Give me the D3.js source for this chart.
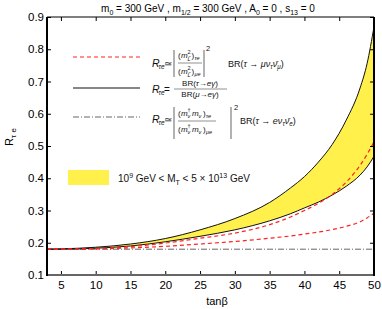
<!DOCTYPE html>
<html><head><meta charset="utf-8">
<script src="https://cdn.jsdelivr.net/npm/d3@7"></script>
<style>body{margin:0;background:#fff}svg{display:block}text{font-family:"Liberation Sans",Arial,sans-serif}</style>
</head><body><svg id="c" width="382" height="309"></svg>
<script>
const tanb = [3, 5, 10, 15, 20, 25, 30, 35, 38, 40, 42, 44, 46, 48, 49, 50];
const upperBlack = [0.180, 0.181, 0.186, 0.196, 0.213, 0.240, 0.275, 0.325, 0.370, 0.405, 0.450, 0.505, 0.580, 0.680, 0.755, 0.870];
const lowerBlack = [0.180, 0.180, 0.183, 0.190, 0.203, 0.220, 0.240, 0.268, 0.290, 0.308, 0.326, 0.348, 0.375, 0.410, 0.435, 0.468];
const upperRed = [0.180, 0.180, 0.182, 0.188, 0.199, 0.214, 0.230, 0.256, 0.280, 0.300, 0.322, 0.350, 0.388, 0.440, 0.474, 0.513];
const lowerRed = [0.180, 0.180, 0.181, 0.184, 0.189, 0.196, 0.204, 0.214, 0.221, 0.227, 0.233, 0.241, 0.251, 0.265, 0.277, 0.292];
const dashDot = [0.180, 0.180, 0.180, 0.180, 0.180, 0.180, 0.180, 0.180, 0.180, 0.180, 0.180, 0.180, 0.180, 0.180, 0.180, 0.180];
const xTicks = [5, 10, 15, 20, 25, 30, 35, 40, 45, 50];
const yTicks = [0.1, 0.2, 0.3, 0.4, 0.5, 0.6, 0.7, 0.8, 0.9];

const svg = d3.select("#c");
const L = 47, R = 374, T = 17, B = 275;
const x = d3.scaleLinear().domain([3, 50]).range([L, R]);
const y = d3.scaleLinear().domain([0.1, 0.9]).range([B, T]);

svg.append("clipPath").attr("id","cp").append("rect").attr("x",L).attr("y",T).attr("width",R-L).attr("height",B-T);
const g = svg.append("g").attr("clip-path","url(#cp)");

const idx = d3.range(tanb.length);
g.append("path").datum(idx)
  .attr("d", d3.area().x(i=>x(tanb[i])).y0(i=>y(lowerBlack[i])).y1(i=>y(upperBlack[i])).curve(d3.curveMonotoneX))
  .attr("fill","#fff04c");
const line = arr => d3.line().x(i=>x(tanb[i])).y(i=>y(arr[i])).curve(d3.curveMonotoneX);
g.append("path").datum(idx).attr("d", line(dashDot)).attr("fill","none").attr("stroke","#555").attr("stroke-width",0.9).attr("stroke-dasharray","6,2,1,2");
g.append("path").datum(idx).attr("d", line(upperBlack)).attr("fill","none").attr("stroke","#111").attr("stroke-width",1);
g.append("path").datum(idx).attr("d", line(lowerBlack)).attr("fill","none").attr("stroke","#111").attr("stroke-width",1);
g.append("path").datum(idx).attr("d", line(lowerRed)).attr("fill","none").attr("stroke","#f22").attr("stroke-width",1.2).attr("stroke-dasharray","4,3");
g.append("path").datum(idx).attr("d", line(upperRed)).attr("fill","none").attr("stroke","#f22").attr("stroke-width",1.2).attr("stroke-dasharray","4,3");

// axes
const fs = "11.5px";
const xb = svg.append("g").attr("transform",`translate(0,${B})`).call(d3.axisBottom(x).tickValues(xTicks).tickSize(-4).tickPadding(6));
const xt = svg.append("g").attr("transform",`translate(0,${T})`).call(d3.axisTop(x).tickValues(xTicks).tickSize(-4).tickFormat(""));
const yl = svg.append("g").attr("transform",`translate(${L},0)`).call(d3.axisLeft(y).tickValues(yTicks).tickSize(-4).tickPadding(3).tickFormat(d3.format(".1f")));
const yr = svg.append("g").attr("transform",`translate(${R},0)`).call(d3.axisRight(y).tickValues(yTicks).tickSize(-4).tickFormat(""));
[xb,xt,yl,yr].forEach(a=>{a.select(".domain").remove();a.selectAll("line").attr("stroke","#000").attr("stroke-width",1);a.selectAll("text").attr("font-size",fs).attr("font-family","Liberation Sans, Arial, sans-serif").attr("fill","#000");});
svg.append("line").attr("x1",L).attr("x2",R).attr("y1",B).attr("y2",B).attr("stroke","#666").attr("stroke-width",2);
svg.append("line").attr("x1",L).attr("x2",L).attr("y1",T).attr("y2",B+1).attr("stroke","#000").attr("stroke-width",2);
svg.append("line").attr("x1",R).attr("x2",R).attr("y1",T).attr("y2",B+1).attr("stroke","#000").attr("stroke-width",2);
svg.append("line").attr("x1",L).attr("x2",R).attr("y1",T).attr("y2",T).attr("stroke","#000").attr("stroke-width",1);

// title
const tt = svg.append("text").attr("x",208).attr("y",12).attr("text-anchor","middle").attr("font-size","10px");
const parts = [["m",0],["0",1],[" = 300 GeV , m",0],["1/2",1],[" = 300 GeV , A",0],["0",1],[" = 0 , s",0],["13",1],[" = 0",0]];
parts.forEach(([t,s],i)=>{const ts=tt.append("tspan").text(t);
  if(s){ts.attr("font-size","7px").attr("dy","3");} else if(i>0){ts.attr("dy","-3");}});

// axis labels
svg.append("text").attr("x",217).attr("y",305).attr("text-anchor","middle").attr("font-size","11px").text("tanβ");
const yt = svg.append("text").attr("transform","translate(13,137) rotate(-90)").attr("text-anchor","middle").attr("font-size","11px");
yt.append("tspan").text("R");
yt.append("tspan").text("τ e").attr("font-size","8px").attr("dy","3");

// legend
const serif = "Liberation Serif, DejaVu Serif, serif";
const lg = svg.append("g");
lg.append("line").attr("x1",73).attr("x2",140).attr("y1",57).attr("y2",57).attr("stroke","#f22").attr("stroke-width",1.2).attr("stroke-dasharray","4,3");
lg.append("line").attr("x1",73).attr("x2",140).attr("y1",88).attr("y2",88).attr("stroke","#111").attr("stroke-width",1.2);
lg.append("line").attr("x1",73).attr("x2",140).attr("y1",117).attr("y2",117).attr("stroke","#555").attr("stroke-width",0.9).attr("stroke-dasharray","6,2,1,2");
lg.append("rect").attr("x",68).attr("y",170).attr("width",41).attr("height",15).attr("fill","#fff04c");

function T_(xx,yy,txt,size,italic,anchor){
  const t=lg.append("text").attr("x",xx).attr("y",yy).attr("font-size",size+"px").attr("font-family",serif).attr("fill","#111");
  if(italic) t.attr("font-style","italic");
  if(anchor) t.attr("text-anchor",anchor);
  t.text(txt);return t;
}
function Rte(xx,yy){
  T_(xx,yy,"R",10.5,true);
  T_(xx+6.5,yy+2,"τe",6.5,true);
}
function bar(xx,y1,y2){lg.append("line").attr("x1",xx).attr("x2",xx).attr("y1",y1).attr("y2",y2).attr("stroke","#222").attr("stroke-width",0.7);}
function hbar(x1,x2,yy){lg.append("line").attr("x1",x1).attr("x2",x2).attr("y1",yy).attr("y2",yy).attr("stroke","#222").attr("stroke-width",0.5);}
function brText(xx,yy,a,s1,s2,size){
  const t=T_(xx,yy,"BR(",size,false);
  t.append("tspan").text(a).attr("font-style","italic");
  t.append("tspan").text(s1).attr("font-size",(size*0.7)+"px").attr("font-style","italic").attr("dy","1.5");
  t.append("tspan").text("ν̄").attr("font-style","italic").attr("dy","-1.5");
  t.append("tspan").text(s2).attr("font-size",(size*0.7)+"px").attr("font-style","italic").attr("dy","1.5");
  t.append("tspan").text(")").attr("dy","-1.5");
}
// formula 1
Rte(152,67);
T_(163.5,67,"≃",10,false);
bar(174,50,77); bar(204,50,77);
T_(178,58,"(",8,false); T_(181,58,"m",8,true); T_(187.5,54,"2",5.5,false); T_(187.5,61,"L̃",5.5,true); T_(191.5,58,")",8,false); T_(194.5,60,"τe",5.5,true);
T_(178,74,"(",8,false); T_(181,74,"m",8,true); T_(187.5,70,"2",5.5,false); T_(187.5,77,"L̃",5.5,true); T_(191.5,74,")",8,false); T_(194.5,76,"μe",5.5,true);
hbar(178,202,63);
T_(206,51,"2",7.5,false);
brText(228,67,"τ → μν","τ","μ",9);

// formula 2
Rte(152,93);
T_(164,93,"=",10,false);
(function(){const t=T_(200,86,"BR(",8,false,"middle");t.append("tspan").text("τ→eγ").attr("font-style","italic");t.append("tspan").text(")");
const u=T_(200,97,"BR(",8,false,"middle");u.append("tspan").text("μ→eγ").attr("font-style","italic");u.append("tspan").text(")");})();
hbar(174,227,89);

// formula 3
Rte(152,123);
T_(163.5,123,"≃",10,false);
bar(174,107,139); bar(231,107,139);
function mm(yy,sub){
  T_(178,yy,"(",8,false); T_(181,yy,"m",8,true); T_(187.5,yy-4,"†",5.5,false); T_(187.5,yy+2,"ν",5.5,true);
  T_(192,yy,"m",8,true); T_(198.5,yy+2,"ν",5.5,true); T_(203,yy,")",8,false); T_(206,yy+2,sub,5.5,true);
}
mm(116,"τe"); mm(132,"μe");
hbar(178,216,121);
T_(234,110,"2",7.5,false);
brText(240,124,"τ → eν","τ","e",9);

// band legend text
(function(){const t=svg.append("text").attr("x",118).attr("y",182).attr("font-size","10px").attr("fill","#111");
  t.append("tspan").text("10");
  t.append("tspan").text("9").attr("font-size","7px").attr("dy","-4");
  t.append("tspan").text(" GeV < M").attr("dy","4");
  t.append("tspan").text("T").attr("font-size","7px").attr("dy","3");
  t.append("tspan").text(" < 5 × 10").attr("dy","-3");
  t.append("tspan").text("13").attr("font-size","7px").attr("dy","-4");
  t.append("tspan").text(" GeV").attr("dy","4");})();
</script></body></html>
